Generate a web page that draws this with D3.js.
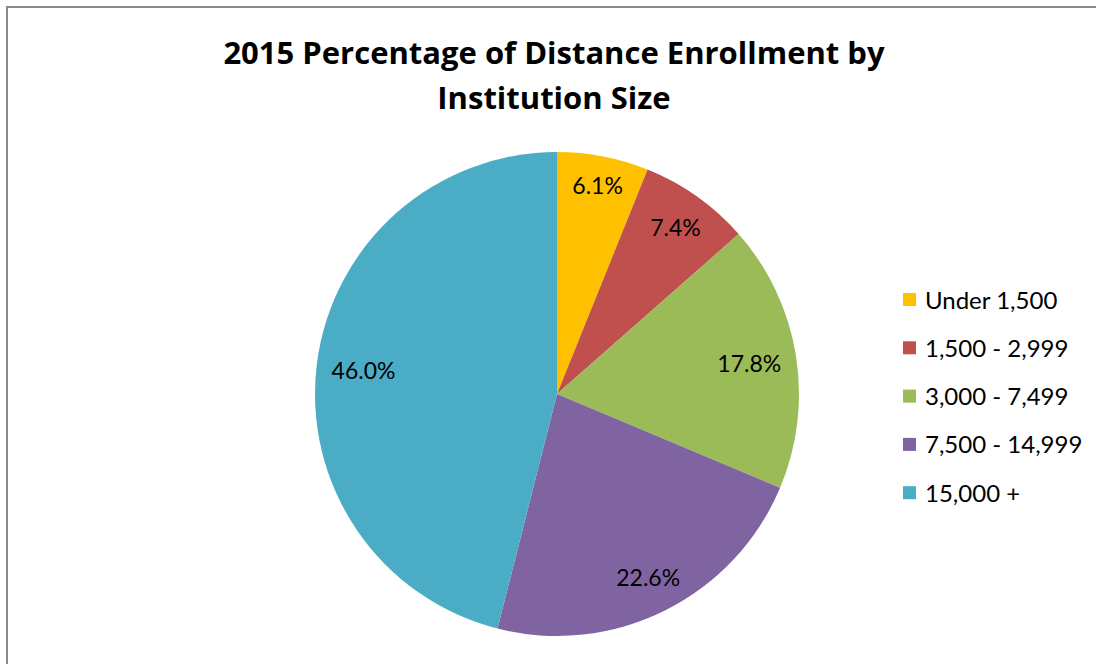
<!DOCTYPE html>
<html>
<head>
<meta charset="utf-8">
<script src="https://cdn.jsdelivr.net/npm/d3@7"></script>
<style>
  html, body { margin: 0; padding: 0; background: #fff; }
  svg { display: block; }
  text { font-family: Lato, "Open Sans", sans-serif; fill: #000; }
  text.title { font-family: "Open Sans", Lato, sans-serif; }
</style>
</head>
<body>
<svg id="chart" width="1096" height="664"></svg>
<script>
// Share of distance enrollment by institution size, 2015
const categories = ["Under 1,500", "1,500 - 2,999", "3,000 - 7,499", "7,500 - 14,999", "15,000 +"];
const shares = [6.1, 7.4, 17.8, 22.6, 46.0];
const colors = ["#FFC000", "#C0504D", "#9BBB59", "#8064A2", "#4BACC6"];
const titleLines = ["2015 Percentage of Distance Enrollment by", "Institution Size"];

const svg = d3.select("#chart");
const W = 1096, H = 664;

svg.append("rect").attr("width", W).attr("height", H).attr("fill", "#fff");

// chart frame (continues past the bottom and right edges)
svg.append("rect")
  .attr("x", 7).attr("y", 7)
  .attr("width", 1300).attr("height", 900)
  .attr("fill", "none")
  .attr("stroke", "#898989")
  .attr("stroke-width", 2);

// title
const title = svg.append("text")
  .attr("class", "title")
  .attr("text-anchor", "middle")
  .attr("font-weight", "bold")
  .attr("font-size", 31);
title.selectAll("tspan")
  .data(titleLines)
  .join("tspan")
  .attr("x", 554)
  .attr("y", (d, i) => 64 + i * 45)
  .text(d => d);

// pie
const cx = 557, cy = 394, R = 242;
const color = d3.scaleOrdinal().domain(categories).range(colors);
const pie = d3.pie().sort(null).value(d => d.value);
const arcs = pie(categories.map((c, i) => ({ name: c, value: shares[i] })));
const arc = d3.arc().innerRadius(0).outerRadius(R);

const g = svg.append("g").attr("transform", `translate(${cx},${cy})`);
g.selectAll("path")
  .data(arcs)
  .join("path")
  .attr("d", arc)
  .attr("fill", d => color(d.data.name));

// value labels placed just inside the rim along each slice's mid-angle
const labelFont = 23;
const innerEdge = 228;
const labels = g.selectAll("text.val")
  .data(arcs)
  .join("text")
  .attr("class", "val")
  .attr("font-size", labelFont)
  .attr("fill", "#000")
  .attr("text-anchor", "middle")
  .attr("dominant-baseline", "central")
  .text(d => d.data.value.toFixed(1) + "%");

labels.each(function(d) {
  const w = this.getComputedTextLength();
  const h = labelFont * 0.9;
  const a = (d.startAngle + d.endAngle) / 2;
  const sx = Math.sin(a), sy = -Math.cos(a);
  const dist = innerEdge - (Math.abs(sx) * w / 2 + Math.abs(sy) * h / 2);
  d3.select(this).attr("x", sx * dist).attr("y", sy * dist);
});

// legend
const legend = svg.append("g").attr("transform", "translate(903,293)");
const item = legend.selectAll("g")
  .data(categories)
  .join("g")
  .attr("transform", (d, i) => `translate(0,${i * 48.3})`);
item.append("rect")
  .attr("width", 13).attr("height", 13)
  .attr("fill", d => color(d));
item.append("text")
  .attr("x", 22)
  .attr("y", 6)
  .attr("dominant-baseline", "central")
  .attr("font-size", 24)
  .attr("fill", "#000")
  .text(d => d);
</script>
</body>
</html>
